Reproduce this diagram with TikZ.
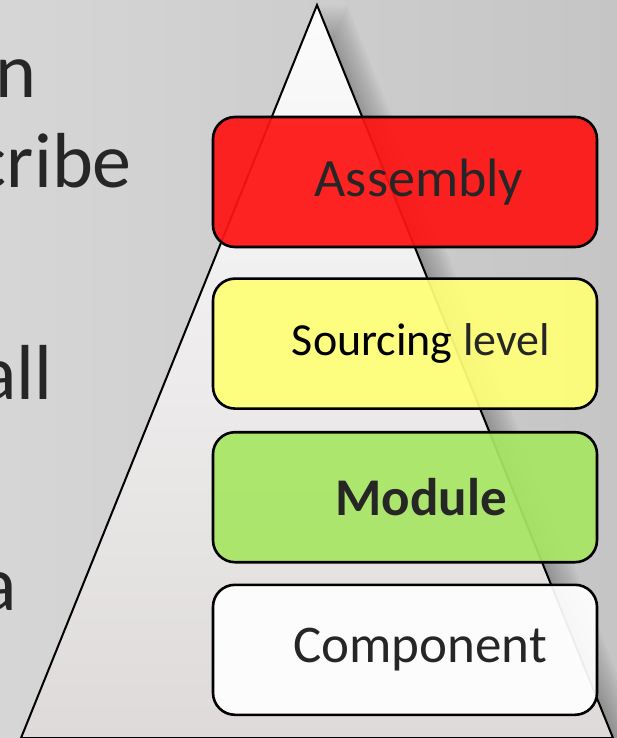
\documentclass[tikz,border=0pt]{standalone}
\usepackage{fontspec}
\setmainfont{Carlito}
\usetikzlibrary{positioning}
\definecolor{bgleft}{RGB}{214,214,214}
\definecolor{bgright}{RGB}{197,197,197}
\definecolor{pyrtop}{RGB}{252,252,252}
\definecolor{pyrbottom}{RGB}{222,218,218}
\definecolor{tierred}{RGB}{255,20,20}
\definecolor{tieryellow}{RGB}{255,255,120}
\definecolor{tiergreen}{RGB}{168,230,100}
\definecolor{ink}{RGB}{38,38,38}

\begin{document}
\begin{tikzpicture}[x=1pt,y=-1pt,
  tier/.style={draw=black,line width=2.6pt,rounded corners=22pt,minimum width=384pt,minimum height=130pt,fill opacity=0.93,inner sep=0pt},
  tiertext/.style={text=ink,font=\fontsize{54}{60}\selectfont},
  side/.style={text=ink,font=\fontsize{78}{88}\selectfont,anchor=base east,inner sep=0pt}]
  \useasboundingbox (0,0) rectangle (617,738);
  \fill[left color=bgleft,right color=bgright] (0,0) rectangle (617,738);

  \node[side] (textn) at (37,98) {n};
  \node[side] (textcribe) at (132,187) {cribe};
  \node[side] (textall) at (53,399) {all};
  \node[side] (texta) at (17,610) {a};

  \coordinate (apex) at (317,5);
  \coordinate (baseleft) at (21,738);
  \coordinate (baseright) at (613,738);
  \foreach \s in {3,6,...,30}
    \fill[black,opacity=0.028] ([xshift=\s]apex) -- ([xshift=\s]baseright) -- (baseleft) -- cycle;
  \draw[line width=2pt,top color=pyrtop,bottom color=pyrbottom] (apex) -- (baseright) -- (baseleft) -- cycle;

  \node[tier,fill=tierred] (assembly) at (405,182) {};
  \node[tier,fill=tieryellow,below=29pt of assembly] (sourcing) {};
  \node[tier,fill=tiergreen,below=21pt of sourcing] (module) {};
  \node[tier,fill=white,below=20pt of module] (component) {};

  \node[tiertext] (assemblytext) at ([xshift=14pt]assembly.center) {Assembly};
  \node[tiertext,font=\fontsize{46}{52}\selectfont] (sourcingtext) at ([xshift=16pt]sourcing.center) {{\color{black}Sourcing} level};
  \node[tiertext,font=\fontsize{53}{60}\selectfont\bfseries] (moduletext) at ([xshift=16pt]module.center) {Module};
  \node[tiertext,font=\fontsize{53}{60}\selectfont] (componenttext) at ([xshift=15pt]component.center) {Component};
\end{tikzpicture}
\end{document}
